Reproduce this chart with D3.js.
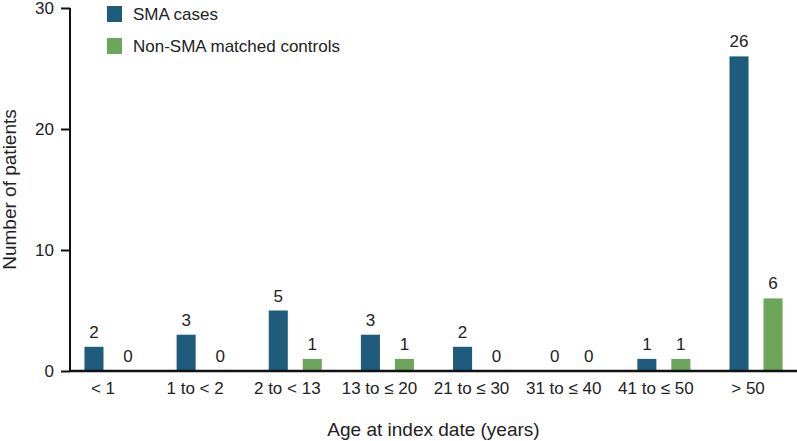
<!DOCTYPE html>
<html><head><meta charset="utf-8">
<script src="https://cdn.jsdelivr.net/npm/d3@7"></script>
<style>body{margin:0;background:#fff}text{font-family:"Liberation Sans",Arial,sans-serif;fill:#222}</style>
</head><body><svg id="c" width="797" height="441"></svg>
<script>
const categories = ["< 1","1 to < 2","2 to < 13","13 to ≤ 20","21 to ≤ 30","31 to ≤ 40","41 to ≤ 50","> 50"];
const seriesNames = ["SMA cases","Non-SMA matched controls"];
const smaCases = [2,3,5,3,2,0,1,26];
const controls = [0,0,1,1,0,0,1,6];
const yTicks = [0,10,20,30];
const colors = ["#1f5b7c","#6ba65a"];

(function(){
const svg = d3.select("#c");
const mL = 70, mR = 797, mT = 8, mB = 371;
const x0 = d3.scaleBand().domain(categories).range([mL, mR]).paddingInner(0.4245).paddingOuter(0.157);
const x1 = d3.scaleBand().domain([0,1]).range([0, x0.bandwidth()]).paddingInner(0.44).paddingOuter(0);
const y = d3.scaleLinear().domain([0,30]).range([mB, mT]);

const data = categories.map((c,i)=>({c, vals:[smaCases[i], controls[i]]}));
const g = svg.selectAll("g.grp").data(data).join("g").attr("class","grp")
  .attr("transform", d=>`translate(${x0(d.c)},0)`);
g.selectAll("rect").data(d=>d.vals.map((v,k)=>({v,k}))).join("rect")
  .attr("x", d=>x1(d.k)).attr("width", x1.bandwidth())
  .attr("y", d=>y(d.v)).attr("height", d=>y(0)-y(d.v))
  .attr("fill", d=>colors[d.k]);
g.selectAll("text.val").data(d=>d.vals.map((v,k)=>({v,k}))).join("text").attr("class","val")
  .attr("x", d=>x1(d.k)+x1.bandwidth()/2).attr("y", d=>y(d.v)-9)
  .attr("text-anchor","middle").attr("font-size",17).text(d=>d.v);

const ya = svg.append("g").attr("transform",`translate(${mL},0)`)
  .call(d3.axisLeft(y).tickValues(yTicks).tickSize(9).tickPadding(7));
ya.select(".domain").attr("stroke","#111").attr("stroke-width",2).attr("d",`M0,${mT}V${mB}`);
ya.selectAll(".tick line").attr("stroke","#111").attr("stroke-width",2);
ya.selectAll(".tick text").attr("font-size",17).attr("fill","#222").style("font-family","Liberation Sans, Arial, sans-serif");

const xa = svg.append("g").attr("transform",`translate(0,${mB})`)
  .call(d3.axisBottom(x0).tickSize(0).tickPadding(11));
xa.select(".domain").attr("stroke","#111").attr("stroke-width",2.5).attr("d",`M${mL},0H${mR}`);
xa.selectAll(".tick text").attr("font-size",17).attr("fill","#222").attr("dx",-8).style("font-family","Liberation Sans, Arial, sans-serif");

svg.append("text").attr("transform",`translate(16,${(mT+mB)/2}) rotate(-90)`)
  .attr("text-anchor","middle").attr("font-size",19).text("Number of patients");
svg.append("text").attr("x",(mL+mR)/2).attr("y",436)
  .attr("text-anchor","middle").attr("font-size",19).text("Age at index date (years)");

const lg = svg.append("g").attr("transform","translate(107,6)");
seriesNames.forEach((n,i)=>{
  lg.append("rect").attr("x",0).attr("y",i*32).attr("width",15).attr("height",16).attr("fill",colors[i]);
  lg.append("text").attr("x",26).attr("y",i*32+14).attr("font-size",17).text(n);
});
})();
</script></body></html>
